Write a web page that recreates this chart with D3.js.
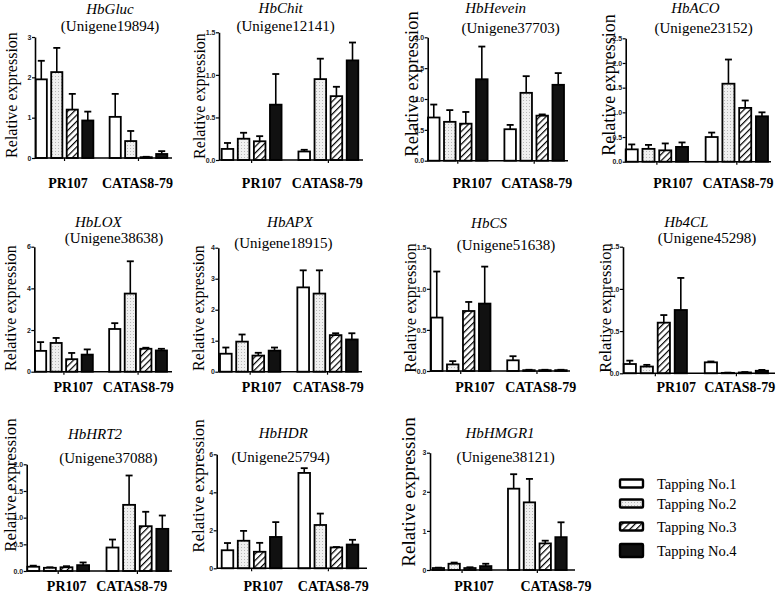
<!DOCTYPE html>
<html><head><meta charset="utf-8">
<script src="https://cdn.jsdelivr.net/npm/d3@7"></script>
<style>body{margin:0;background:#fff}svg{display:block}</style>
</head><body>
<svg id="chart" width="778" height="595"></svg>
<script>
// ---------------- DATA ----------------
const genes = ["HbGluc","HbChit","HbHevein","HbACO","HbLOX","HbAPX","HbCS","Hb4CL","HbHRT2","HbHDR","HbHMGR1"];
const unigenes = ["Unigene19894","Unigene12141","Unigene37703","Unigene23152","Unigene38638","Unigene18915","Unigene51638","Unigene45298","Unigene37088","Unigene25794","Unigene38121"];
const cultivars = ["PR107","CATAS8-79"];
const tappings = ["Tapping No.1","Tapping No.2","Tapping No.3","Tapping No.4"];
const yTickLabels = [
  ["0","1","2","3"],
  ["0.0","0.5","1.0","1.5"],
  ["0.0","0.5","1.0","1.5","2.0"],
  ["0.0","0.5","1.0","1.5","2.0","2.5"],
  ["0","2","4","6"],
  ["0","1","2","3","4"],
  ["0.0","0.5","1.0","1.5"],
  ["0.0","0.5","1.0","1.5"],
  ["0.0","0.5","1.0","1.5","2.0"],
  ["0","2","4","6"],
  ["0","1","2","3"]
];
const pr107Mean = [
  [1.95,2.13,1.20,0.93],
  [0.13,0.25,0.22,0.65],
  [0.70,0.63,0.60,1.32],
  [0.25,0.26,0.23,0.30],
  [1.00,1.38,0.60,0.82],
  [0.58,0.97,0.52,0.68],
  [0.65,0.08,0.73,0.82],
  [0.11,0.08,0.60,0.75],
  [0.08,0.06,0.07,0.11],
  [0.95,1.45,0.87,1.65],
  [0.05,0.16,0.05,0.10]
];
const pr107Err = [
  [0.46,0.60,0.39,0.22],
  [0.07,0.07,0.06,0.36],
  [0.21,0.19,0.19,0.53],
  [0.10,0.08,0.14,0.09],
  [0.42,0.24,0.30,0.25],
  [0.20,0.23,0.09,0.10],
  [0.56,0.04,0.11,0.45],
  [0.04,0.02,0.09,0.38],
  [0.02,0.01,0.02,0.05],
  [0.38,0.52,0.47,0.78],
  [0.01,0.03,0.02,0.06]
];
const catasMean = [
  [1.02,0.42,0.02,0.10],
  [0.10,0.95,0.75,1.17],
  [0.51,1.10,0.73,1.23],
  [0.50,1.58,1.09,0.92],
  [2.05,3.75,1.10,1.02],
  [2.72,2.52,1.18,1.04],
  [0.13,0.01,0.01,0.01],
  [0.13,0.005,0.01,0.03],
  [0.44,1.24,0.84,0.79],
  [5.02,2.28,1.10,1.25],
  [2.08,1.73,0.68,0.84]
];
const catasErr = [
  [0.57,0.25,0.01,0.07],
  [0.02,0.24,0.11,0.21],
  [0.07,0.27,0.02,0.19],
  [0.09,0.49,0.15,0.08],
  [0.28,1.55,0.05,0.08],
  [0.55,0.75,0.06,0.20],
  [0.05,0.005,0.005,0.005],
  [0.01,0.003,0.005,0.01],
  [0.15,0.55,0.27,0.25],
  [0.25,0.60,0.02,0.25],
  [0.37,0.60,0.07,0.38]
];

// ---------------- LAYOUT (pixel geometry per panel) ----------------
const layout = [
  {ax:35,   y0:158,   yTop:37,    bx0:35.7,  bx1:167.3, xEnd:172, gx:110,   gy:14,    ux:110,   uy:31,    ly:188, l1:68,  l2:137.5, ylx:11,  yly:95,  yls:16},
  {ax:219,  y0:160,   yTop:32.3,  bx0:221.7, bx1:358.3, xEnd:363, gx:280.7, gy:13,    ux:285.7, uy:31,    ly:188, l1:261.7,l2:327.3,ylx:199, yly:96,  yls:16},
  {ax:427.7,y0:160.7, yTop:37.3,  bx0:428,   bx1:564,   xEnd:568, gx:495.7, gy:13.3,  ux:510.7, uy:33,    ly:188, l1:472.3,l2:536.7,ylx:412, yly:84,  yls:18.5},
  {ax:625.7,y0:161.7, yTop:38.3,  bx0:625.7, bx1:768,   xEnd:771, gx:695.3, gy:13.3,  ux:703.7, uy:33,    ly:188, l1:673, l2:738,   ylx:609, yly:85,  yls:18},
  {ax:34.3, y0:371.7, yTop:246.7, bx0:35,    bx1:167,   xEnd:172, gx:98.3,  gy:226.7, ux:114,   uy:243.3, ly:392, l1:73.3,l2:138.3, ylx:10,  yly:308, yls:16},
  {ax:218.3,y0:371.7, yTop:247.7, bx0:220,   bx1:357.7, xEnd:362, gx:290,   gy:226.7, ux:283.3, uy:248.3, ly:392, l1:261.7,l2:328.3,ylx:198, yly:308, yls:16},
  {ax:430,  y0:371,   yTop:247.7, bx0:431,   bx1:566.7, xEnd:570, gx:489,   gy:228.3, ux:506,   uy:250,   ly:392, l1:475, l2:540.7, ylx:410, yly:308, yls:16.5},
  {ax:623,  y0:373.3, yTop:246.7, bx0:623.7, bx1:768,   xEnd:775, gx:686.3, gy:226.7, ux:707,   uy:243.3, ly:392, l1:676.3,l2:739.7,ylx:605, yly:308, yls:16.5},
  {ax:26.7, y0:571,   yTop:464.3, bx0:27.3,  bx1:168.3, xEnd:172, gx:95,    gy:439.3, ux:108.3, uy:463.3, ly:591, l1:66.7,l2:131.7, ylx:10,  yly:485, yls:17},
  {ax:216.7,y0:568.3, yTop:454.3, bx0:221.7, bx1:358.3, xEnd:367, gx:283.3, gy:437.7, ux:280.7, uy:461.7, ly:591, l1:263.3,l2:333.3,ylx:198, yly:486, yls:17},
  {ax:430,  y0:570,   yTop:452.7, bx0:432.7, bx1:566.7, xEnd:575, gx:500,   gy:437.7, ux:505.7, uy:461.7, ly:591, l1:474, l2:556,   ylx:408, yly:492, yls:19}
];
const legendLayout = {bx:620, bw:23, tx:657, rows:[{y:479.5,h:8},{y:499.5,h:8},{y:522.5,h:8},{y:544,h:13}]};

// ---------------- DRAW ----------------
const svg = d3.select("#chart");
const defs = svg.append("defs");
const dots = defs.append("pattern").attr("id","dots").attr("patternUnits","userSpaceOnUse").attr("width",3).attr("height",3);
dots.append("rect").attr("width",3).attr("height",3).attr("fill","#f0f0f0");
dots.append("rect").attr("x",1).attr("y",1).attr("width",1).attr("height",1).attr("fill","#b8b8b8");
const hatch = defs.append("pattern").attr("id","hatch").attr("patternUnits","userSpaceOnUse").attr("width",4.5).attr("height",4.5)
  .attr("patternTransform","rotate(45)");
hatch.append("rect").attr("width",4.5).attr("height",4.5).attr("fill","#fff");
hatch.append("line").attr("x1",0).attr("y1",0).attr("x2",0).attr("y2",4.5).attr("stroke","#000").attr("stroke-width",2.4);

const fills = ["#ffffff","url(#dots)","url(#hatch)","#111111"];
const serif = "'Liberation Serif','Times New Roman',serif";
const sans = "'Liberation Sans',Arial,sans-serif";

genes.forEach((gene, i) => {
  const L = layout[i];
  const ticks = yTickLabels[i];
  const yMax = +ticks[ticks.length - 1];
  const y = d3.scaleLinear().domain([0, yMax]).range([L.y0, L.yTop]);
  const gScale = d3.scaleBand().domain(cultivars).range([L.bx0, L.bx1]).paddingInner(0.22);
  const tScale = d3.scaleBand().domain(tappings).range([0, gScale.bandwidth()]).paddingInner(0.28);
  const g = svg.append("g");

  const data = [];
  cultivars.forEach((c, ci) => {
    tappings.forEach((t, ti) => {
      const m = ci === 0 ? pr107Mean[i][ti] : catasMean[i][ti];
      const e = ci === 0 ? pr107Err[i][ti] : catasErr[i][ti];
      data.push({c, t, ti, m, e});
    });
  });

  // error bars (upper only)
  const eb = g.selectAll("g.eb").data(data).join("g");
  eb.append("line")
    .attr("x1", d => gScale(d.c) + tScale(d.t) + tScale.bandwidth()/2)
    .attr("x2", d => gScale(d.c) + tScale(d.t) + tScale.bandwidth()/2)
    .attr("y1", d => y(d.m)).attr("y2", d => y(d.m + d.e))
    .attr("stroke","#000").attr("stroke-width",1.6);
  eb.append("line")
    .attr("x1", d => gScale(d.c) + tScale(d.t) + tScale.bandwidth()/2 - 3.5)
    .attr("x2", d => gScale(d.c) + tScale(d.t) + tScale.bandwidth()/2 + 3.5)
    .attr("y1", d => y(d.m + d.e)).attr("y2", d => y(d.m + d.e))
    .attr("stroke","#000").attr("stroke-width",1.8);

  // bars
  g.selectAll("rect.bar").data(data).join("rect")
    .attr("x", d => gScale(d.c) + tScale(d.t))
    .attr("width", tScale.bandwidth())
    .attr("y", d => y(d.m))
    .attr("height", d => Math.max(0.01, L.y0 - y(d.m)))
    .attr("fill", d => fills[d.ti])
    .attr("stroke","#000").attr("stroke-width",1.8);

  // y axis
  const yAxis = d3.axisLeft(y).tickValues(ticks.map(Number)).tickFormat((d, k) => ticks[k]).tickSize(3).tickSizeOuter(0);
  const ya = g.append("g").attr("transform", `translate(${L.ax},0)`).call(yAxis);
  ya.select(".domain").attr("stroke","#000").attr("stroke-width",1.6);
  ya.selectAll(".tick line").attr("stroke","#000").attr("stroke-width",1.2);
  ya.selectAll(".tick text").attr("font-family",sans).attr("font-weight","bold").attr("font-size",7).attr("fill","#222").attr("x",-3.5);

  // x axis
  const xa = g.append("g");
  xa.append("line").attr("x1",L.ax).attr("x2",L.xEnd).attr("y1",L.y0).attr("y2",L.y0).attr("stroke","#000").attr("stroke-width",1.6);
  xa.selectAll("line.xt").data(cultivars).join("line")
    .attr("x1", c => gScale(c) + gScale.bandwidth()/2).attr("x2", c => gScale(c) + gScale.bandwidth()/2)
    .attr("y1", L.y0).attr("y2", L.y0 + 3).attr("stroke","#000").attr("stroke-width",1.2);

  // group labels
  [L.l1, L.l2].forEach((lx, ci) => {
    g.append("text").attr("x", lx).attr("y", L.ly).attr("text-anchor","middle")
      .attr("font-family",serif).attr("font-weight","bold").attr("font-size",14).attr("fill","#000")
      .text(cultivars[ci]);
  });

  // titles
  g.append("text").attr("x",L.gx).attr("y",L.gy).attr("text-anchor","middle")
    .attr("font-family",serif).attr("font-style","italic").attr("font-size",15).attr("fill","#000").text(gene);
  g.append("text").attr("x",L.ux).attr("y",L.uy).attr("text-anchor","middle")
    .attr("font-family",serif).attr("font-size",15).attr("fill","#000").text("(" + unigenes[i] + ")");

  // y label
  g.append("text").attr("transform",`translate(${L.ylx},${L.yly}) rotate(-90)`)
    .attr("text-anchor","middle").attr("dominant-baseline","central")
    .attr("font-family",serif).attr("font-size",L.yls).attr("fill","#000").text("Relative expression");
});

// legend
const lg = svg.append("g");
tappings.forEach((t, k) => {
  const r = legendLayout.rows[k];
  lg.append("rect").attr("x",legendLayout.bx).attr("y",r.y).attr("width",legendLayout.bw).attr("height",r.h)
    .attr("fill",fills[k]).attr("stroke","#000").attr("stroke-width",2.4).attr("rx",1);
  lg.append("text").attr("x",legendLayout.tx).attr("y",r.y + r.h/2).attr("dominant-baseline","central")
    .attr("font-family",serif).attr("font-size",14.5).attr("fill","#000").text(t);
});
</script>
</body></html>
